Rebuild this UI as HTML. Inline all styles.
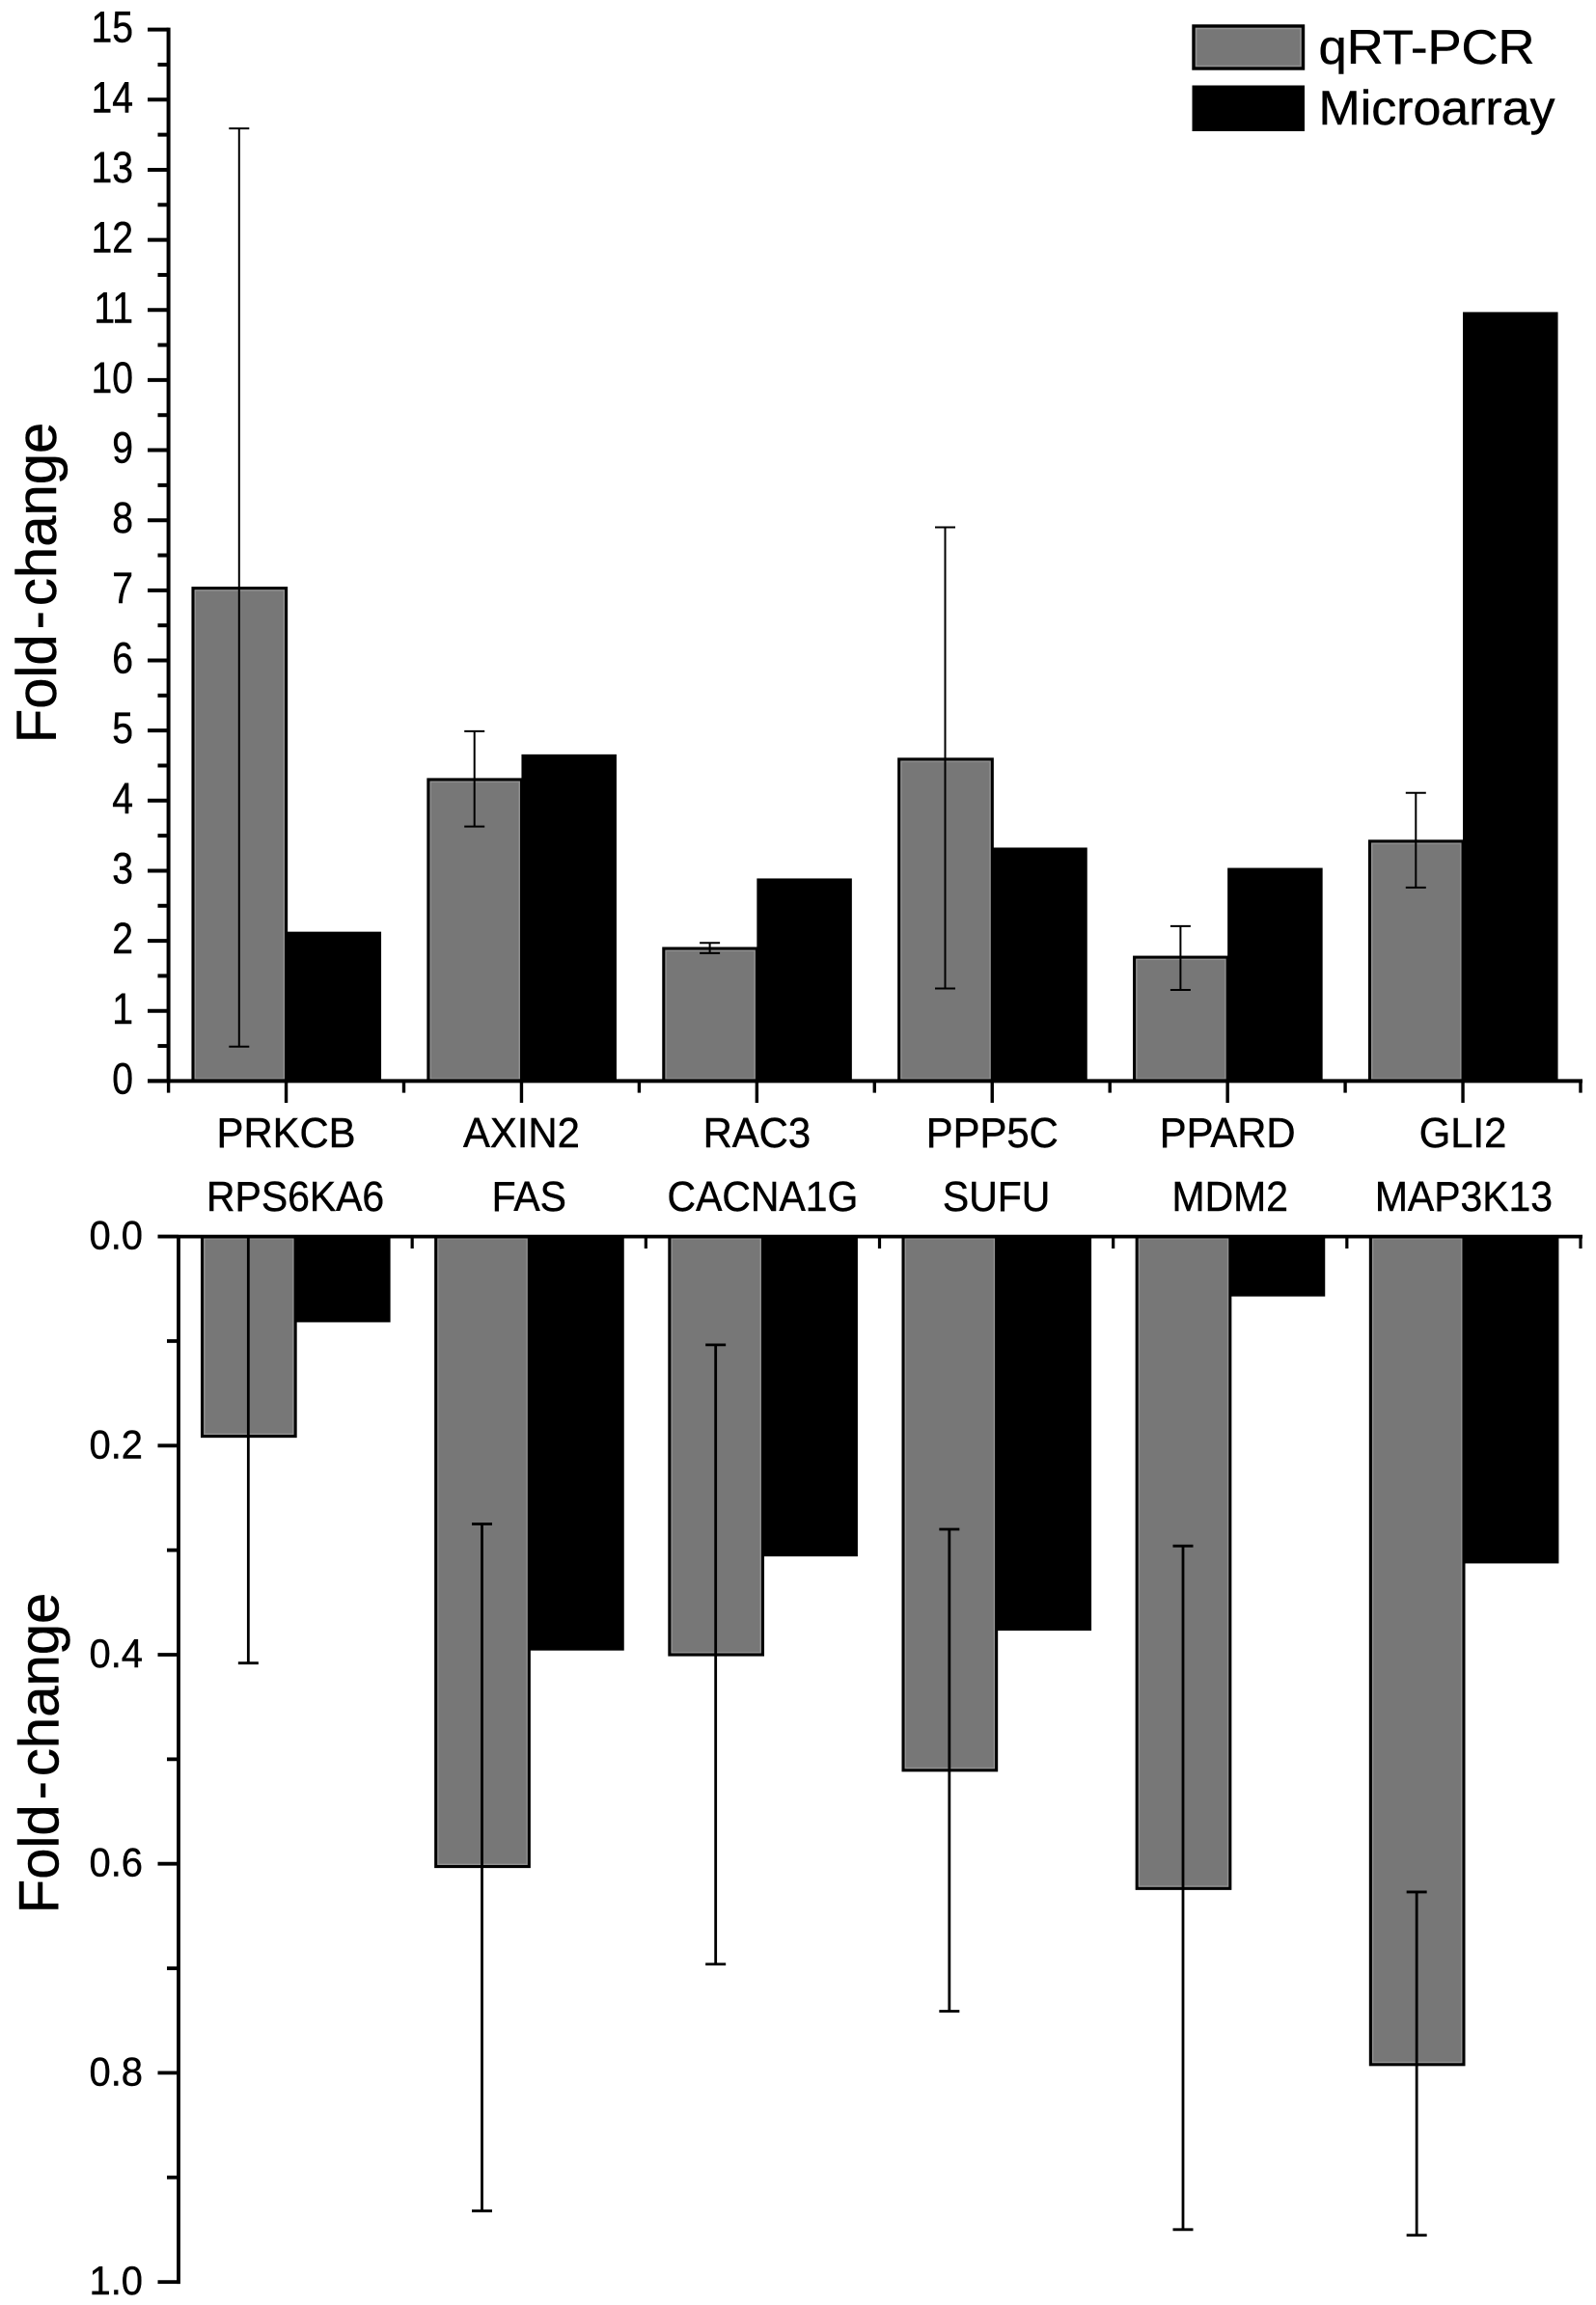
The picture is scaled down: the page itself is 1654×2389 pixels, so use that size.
<!DOCTYPE html>
<html lang="en">
<head>
<meta charset="utf-8">
<title>Fold-change: qRT-PCR vs Microarray</title>
<style>
html,body{margin:0;padding:0;background:#fff;}
svg{display:block;}
text{font-family:"Liberation Sans",sans-serif;fill:#000;stroke:#000;stroke-width:0.45px;}
</style>
</head>
<body>
<svg id="figure" xmlns="http://www.w3.org/2000/svg" width="1654" height="2389" viewBox="0 0 1654 2389">
  <g>
    <rect x="1237" y="27" width="113.5" height="44" fill="#777" stroke="#000" stroke-width="3.4"/>
    <rect x="1239.6" y="29.6" width="108.3" height="38.8" fill="none" stroke="#939393" stroke-width="1.5"/>
    <text x="1366.5" y="66" font-size="50" textLength="224" lengthAdjust="spacingAndGlyphs">qRT-PCR</text>
    <rect x="1235.5" y="88.5" width="116.5" height="47.5" fill="#000"/>
    <text x="1366.5" y="129" font-size="50" textLength="245" lengthAdjust="spacingAndGlyphs">Microarray</text>
  </g>
</svg>
<script>
// Upper panel data
const upCategories = ['PRKCB','AXIN2','RAC3','PPP5C','PPARD','GLI2'];
const upQrtPcr     = [7.03,4.30,1.89,4.59,1.765,3.42];
const upMicroarray = [2.13,4.66,2.89,3.33,3.04,10.97];
const upErrHigh    = [13.59,4.99,1.97,7.90,2.21,4.11];
const upErrLow     = [0.49,3.63,1.825,1.32,1.30,2.76];
const upTicks      = [0,1,2,3,4,5,6,7,8,9,10,11,12,13,14,15];

// Lower panel data
const lowCategories = ['RPS6KA6','FAS','CACNA1G','SUFU','MDM2','MAP3K13'];
const lowQrtPcr     = [0.191,0.6026,0.40,0.5105,0.6236,0.792];
const lowMicroarray = [0.082,0.396,0.306,0.377,0.0573,0.3127];
const lowErrHigh    = [0,0.275,0.1036,0.28,0.296,0.627];
const lowErrLow     = [0.408,0.932,0.696,0.741,0.9499,0.9553];
const lowTicks      = [0,0.2,0.4,0.6,0.8,1.0];

const NS = 'http://www.w3.org/2000/svg';
const svg = document.getElementById('figure');

function mk(tag, parent, attrs, txt) {
  const n = document.createElementNS(NS, tag);
  for (const k in attrs) n.setAttribute(k, attrs[k]);
  if (txt !== undefined) n.textContent = txt;
  parent.appendChild(n);
  return n;
}

// Axis functions
const upY  = v => 1120.4 - v * 72.65;
const lowY = v => 1281.6 + v * 1083.5;
const upBand  = i => 174.6 + (i + 0.5) * (1463.4 / upCategories.length);
const lowBand = i => 185 + (i + 0.5) * (1453 / lowCategories.length);

function drawBars(panel, cats, qpcr, micro, hi, lo, yFn, xFn, zeroY, barW, errW) {
  cats.forEach((cat, i) => {
    const c = xFn(i);
    const yq = yFn(qpcr[i]);
    const ym = yFn(micro[i]);
    const qTop = Math.min(yq, zeroY), qH = Math.abs(yq - zeroY);
    const mTop = Math.min(ym, zeroY), mH = Math.abs(ym - zeroY);

    let el = mk('rect', panel, {x: c, y: mTop, width: barW + 1, height: mH, fill: '#000'});
    
    

    el = mk('rect', panel, {x: c - barW + 1, y: qTop, width: barW - 1, height: qH, fill: '#777', stroke: '#000', 'stroke-width': 3.2});
    
    

    el = mk('rect', panel, {x: c - barW + 3.2, y: qTop + 2.2, width: barW - 5.4, height: Math.max(qH - 4.4, 0), fill: 'none', stroke: '#929292', 'stroke-width': 1.4});
    
    

    const ex = c - barW / 2;
    const g = mk('g', panel, {stroke: '#000', 'stroke-width': errW, fill: 'none'});
    
    
    mk('line', g, {x1: ex, x2: ex, y1: yFn(hi[i]), y2: yFn(lo[i])});
    if (hi[i] > 0) mk('line', g, {x1: ex - 10.5, x2: ex + 10.5, y1: yFn(hi[i]), y2: yFn(hi[i])});
    mk('line', g, {x1: ex - 10.5, x2: ex + 10.5, y1: yFn(lo[i]), y2: yFn(lo[i])});
  });
}

function drawCatLabels(panel, cats, xFn, baseline, sx) {
  cats.forEach((cat, i) => {
    const t = mk('text', panel, {'text-anchor': 'middle', 'font-size': 44, transform: 'translate(' + xFn(i) + ',' + baseline + ') scale(' + sx + ',1)'}, cat);
    
    
  });
}

function drawTitle(panel, name, x, y) {
  const t = mk('text', panel, {'text-anchor': 'middle', 'font-size': 58, transform: 'translate(' + x + ',' + y + ') rotate(-90)'});
  
  
  mk('tspan', t, {}, 'Fold');
  mk('tspan', t, {dx: 5}, '-');
  mk('tspan', t, {dx: 5}, 'change');
}

/* ---------- upper panel ---------- */
const up = mk('g', svg, {});


drawBars(up, upCategories, upQrtPcr, upMicroarray, upErrHigh, upErrLow, upY, upBand, upY(0), 97.5, 2);

const upAxes = mk('g', up, {stroke: '#000', fill: 'none', 'stroke-width': 4});


mk('line', upAxes, {x1: 174.6, x2: 174.6, y1: upY(15) - 2, y2: upY(0) + 2});
mk('line', upAxes, {x1: 153, x2: 1640, y1: upY(0), y2: upY(0)});
upTicks.forEach((v, i) => {
  mk('line', upAxes, {x1: 153, x2: 174.6, y1: upY(v), y2: upY(v)});
  if (i < upTicks.length - 1) {
    const m = (v + upTicks[i + 1]) / 2;
    mk('line', upAxes, {x1: 163.5, x2: 174.6, y1: upY(m), y2: upY(m)});
  }
  const t = mk('text', up, {'text-anchor': 'end', 'font-size': 45, transform: 'translate(138,' + (upY(v) + 13) + ') scale(0.87,1)'}, String(v));
  
  
});
upCategories.forEach((cat, i) => {
  const c = upBand(i), step = 1463.4 / upCategories.length;
  mk('line', upAxes, {x1: c, x2: c, y1: upY(0), y2: 1143, 'stroke-width': 3.4});
  mk('line', upAxes, {x1: c - step / 2, x2: c - step / 2, y1: upY(0), y2: 1132.6, 'stroke-width': 3.4});
  if (i === upCategories.length - 1) mk('line', upAxes, {x1: c + step / 2, x2: c + step / 2, y1: upY(0), y2: 1132.6, 'stroke-width': 3.4});
});
drawCatLabels(up, upCategories, upBand, 1189, 0.95);
drawTitle(up, 'upper-y-axis-title', 58, 604);

/* ---------- lower panel ---------- */
const low = mk('g', svg, {});


drawBars(low, lowCategories, lowQrtPcr, lowMicroarray, lowErrHigh, lowErrLow, lowY, lowBand, lowY(0), 97.5, 2.8);

const lowAxes = mk('g', low, {stroke: '#000', fill: 'none', 'stroke-width': 3.8});


mk('line', lowAxes, {x1: 185, x2: 185, y1: lowY(0), y2: lowY(1) + 2});
mk('line', lowAxes, {x1: 163.5, x2: 1640, y1: lowY(0), y2: lowY(0)});
lowTicks.forEach((v, i) => {
  mk('line', lowAxes, {x1: 163.5, x2: 185, y1: lowY(v), y2: lowY(v)});
  if (i < lowTicks.length - 1) {
    const m = (v + lowTicks[i + 1]) / 2;
    mk('line', lowAxes, {x1: 173, x2: 185, y1: lowY(m), y2: lowY(m)});
  }
  const t = mk('text', low, {'text-anchor': 'end', 'font-size': 42, transform: 'translate(148,' + (lowY(v) + 13) + ') scale(0.95,1)'}, v.toFixed(1));
  
  
});
lowCategories.forEach((cat, i) => {
  const step = 1453 / lowCategories.length, e = lowBand(i) + step / 2;
  mk('line', lowAxes, {x1: e, x2: e, y1: lowY(0), y2: 1294, 'stroke-width': 3.2});
});
drawCatLabels(low, lowCategories, lowBand, 1255, 0.93);
drawTitle(low, 'lower-y-axis-title', 60.5, 1817);
</script>
</body>
</html>
